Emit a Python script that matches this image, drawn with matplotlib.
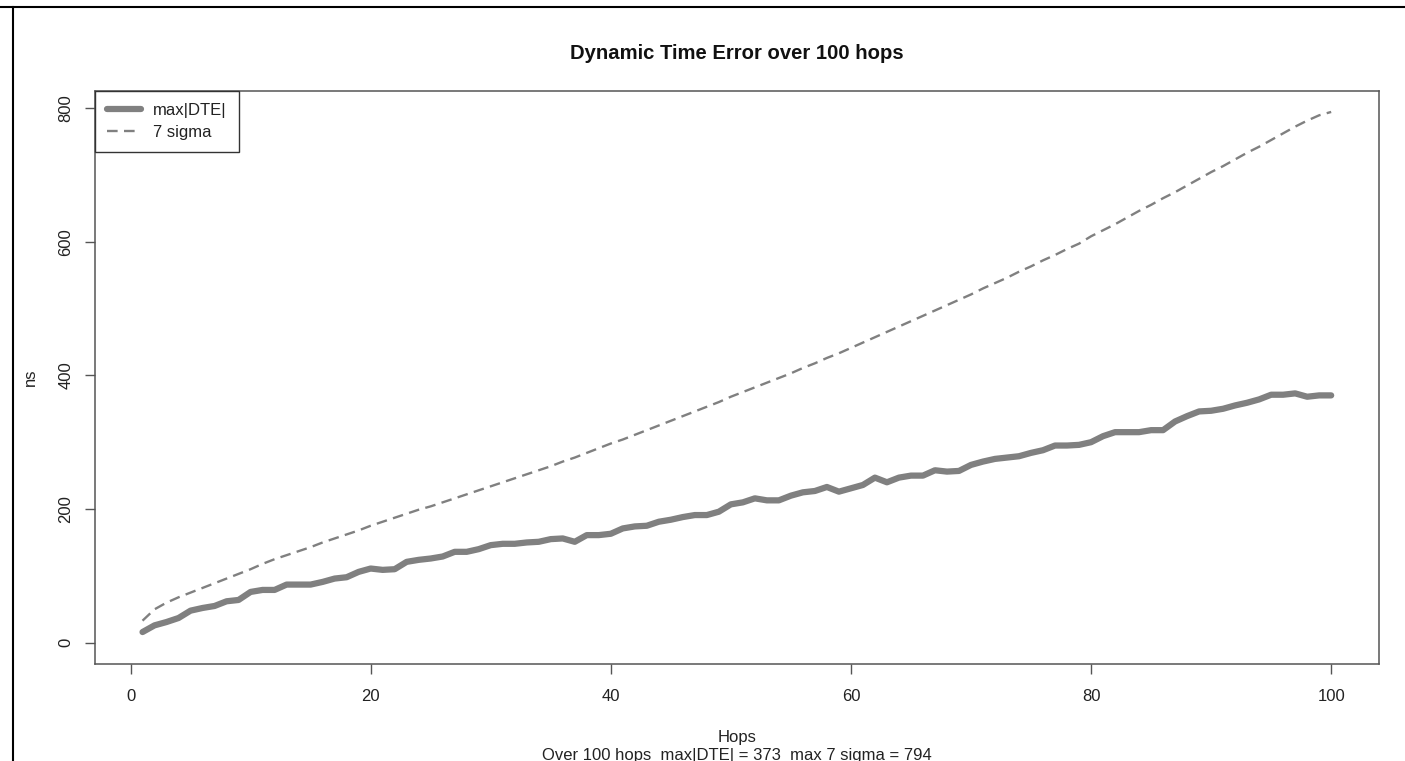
import numpy as np
import matplotlib.pyplot as plt
from matplotlib.lines import Line2D

plt.rcParams['font.family'] = ['Liberation Sans', 'DejaVu Sans']

# Data
hops = np.arange(1, 101)
max_dte = [16, 26, 31, 37, 48, 52, 55, 62, 64, 76,
           79, 79, 87, 87, 87, 91, 96, 98, 106, 111,
           109, 110, 121, 124, 126, 129, 136, 136, 140, 146,
           148, 148, 150, 151, 155, 156, 151, 161, 161, 163,
           171, 174, 175, 181, 184, 188, 191, 191, 196, 207,
           210, 216, 213, 213, 220, 225, 227, 233, 226, 231,
           236, 247, 240, 247, 250, 250, 258, 256, 257, 266,
           271, 275, 277, 279, 284, 288, 295, 295, 296, 300,
           309, 315, 315, 315, 318, 318, 331, 339, 346, 347,
           350, 355, 359, 364, 371, 371, 373, 368, 370, 370]
seven_sigma = [33, 50, 60, 68, 75, 82, 89, 96, 103, 110,
               118, 125, 131, 137, 143, 150, 156, 162, 168, 175,
               181, 187, 193, 199, 204, 210, 216, 222, 228, 234,
               240, 246, 252, 258, 264, 271, 277, 284, 291, 298,
               304, 311, 318, 325, 332, 339, 346, 353, 360, 368,
               375, 382, 389, 396, 403, 411, 418, 426, 433, 441,
               449, 457, 465, 473, 481, 489, 497, 505, 513, 521,
               530, 538, 546, 555, 563, 572, 580, 589, 597, 608,
               617, 626, 636, 646, 655, 665, 674, 684, 694, 704,
               713, 723, 733, 742, 752, 762, 772, 781, 789, 794]
x_ticks = [0, 20, 40, 60, 80, 100]
y_ticks = [0, 200, 400, 600, 800]

fig = plt.figure(figsize=(14.05, 7.61), dpi=100)
ax = fig.add_axes([0.0676, 0.1275, 0.9137, 0.7533])

ax.plot(hops, max_dte, color='gray', lw=4.5, solid_capstyle='round',
        solid_joinstyle='round', label='max|DTE|')
ax.plot(hops, seven_sigma, color='gray', lw=1.7, linestyle=(0, (4.5, 2.7)),
        label='7 sigma')

# R-style 4% padding
xr = hops.max() - hops.min()
ax.set_xlim(hops.min() - 0.04 * xr, hops.max() + 0.04 * xr)
ymax = max(seven_sigma)
ax.set_ylim(-0.04 * ymax, ymax * 1.04)

ax.set_xticks(x_ticks)
ax.set_yticks(y_ticks)
ax.tick_params(length=7.2, width=1, color='#555555', labelsize=12,
               labelcolor='#222222')
ax.tick_params(axis='x', pad=10.5)
ax.tick_params(axis='y', pad=8.5)
for lbl in ax.get_yticklabels():
    lbl.set_rotation(90)
    lbl.set_va('center')
    lbl.set_ha('right')
for s in ax.spines.values():
    s.set_color('#555555')
    s.set_linewidth(1.1)

leg = ax.legend(loc='upper left', bbox_to_anchor=(0, 1), borderaxespad=0,
                fontsize=12, fancybox=False, framealpha=1, edgecolor='#333333',
                handlelength=2.0, handletextpad=0.75, borderpad=0.75,
                labelspacing=0.38)
leg.get_frame().set_linewidth(1.0)
for t in leg.get_texts():
    t.set_color('#222222')

fig.text(0.5245, 1 - 59 / 761, 'Dynamic Time Error over 100 hops',
         ha='center', va='baseline', fontsize=14.6, fontweight='bold',
         color='#111111')
fig.text(0.5245, 1 - 742 / 761, 'Hops', ha='center', va='baseline',
         fontsize=12, color='#222222')
fig.text(0.5245, 1 - 760 / 761,
         'Over 100 hops  max|DTE| = %d  max 7 sigma = %d' % (max(max_dte), max(seven_sigma)),
         ha='center', va='baseline', fontsize=12, color='#222222')
fig.text(30 / 1405, 1 - 377 / 761, 'ns', rotation=90, ha='center', va='center',
         fontsize=12, color='#222222')

# screenshot frame
fig.add_artist(Line2D([0, 1], [1 - 7 / 761, 1 - 7 / 761], color='black', lw=1.5))
fig.add_artist(Line2D([12.5 / 1405, 12.5 / 1405], [0, 1 - 7 / 761], color='black', lw=1.5))

fig.savefig('out.png', dpi=100)
